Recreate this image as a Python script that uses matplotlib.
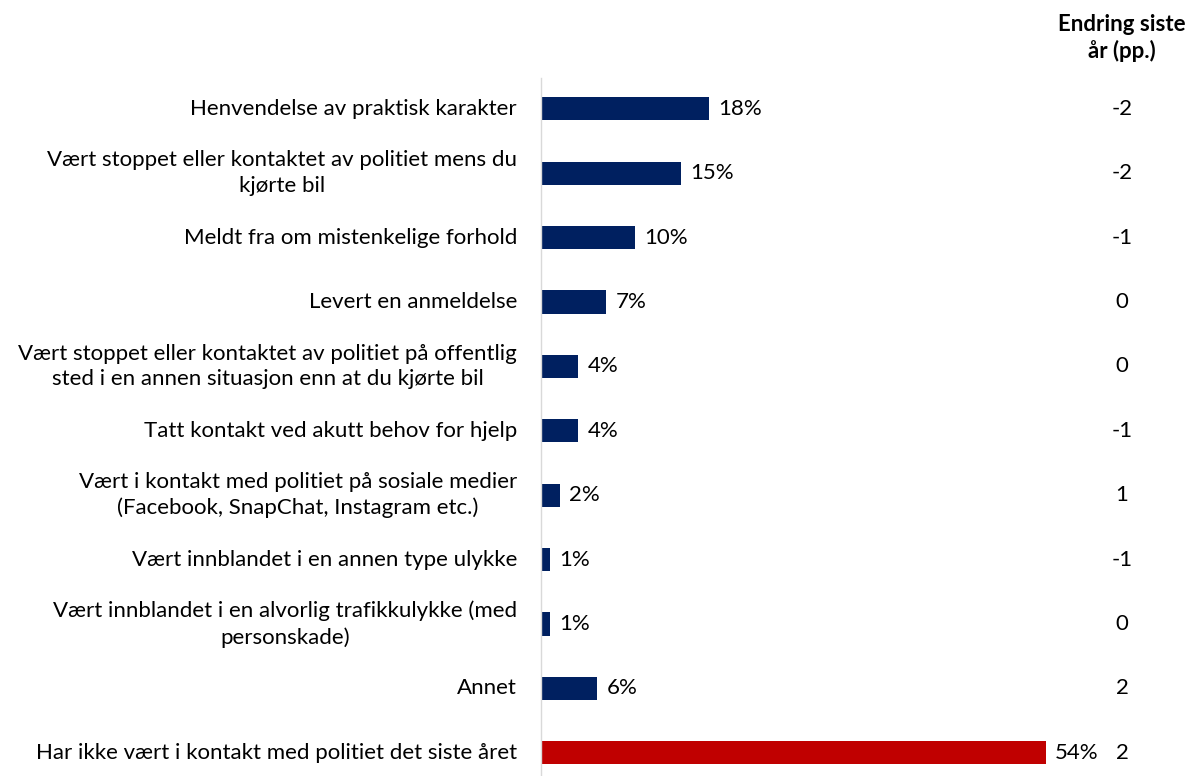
import matplotlib.pyplot as plt

plt.rcParams['font.family'] = ['Lato', 'DejaVu Sans']

categories = [
    "Henvendelse av praktisk karakter",
    "Vært stoppet eller kontaktet av politiet mens du\nkjørte bil",
    "Meldt fra om mistenkelige forhold",
    "Levert en anmeldelse",
    "Vært stoppet eller kontaktet av politiet på offentlig\nsted i en annen situasjon enn at du kjørte bil",
    "Tatt kontakt ved akutt behov for hjelp",
    "Vært i kontakt med politiet på sosiale medier\n(Facebook, SnapChat, Instagram etc.)",
    "Vært innblandet i en annen type ulykke",
    "Vært innblandet i en alvorlig trafikkulykke (med\npersonskade)",
    "Annet",
    "Har ikke vært i kontakt med politiet det siste året",
]
shares = [18, 15, 10, 7, 4, 4, 2, 1, 1, 6, 54]
changes = [-2, -2, -1, 0, 0, -1, 1, -1, 0, 2, 2]

navy = '#002060'
red = '#C00000'
colors = [navy] * (len(shares) - 1) + [red]
fs = 16

fig = plt.figure(figsize=(11.94, 7.76), dpi=100)
ax = fig.add_axes([541 / 1194, 0, 561 / 1194, 698 / 776])

y = list(range(len(shares)))
ax.barh(y, shares, height=0.36, color=colors)
ax.set_xlim(0, 60)
ax.set_ylim(len(shares) - 1 + 0.36, -0.48)

# value labels next to each bar
for i, v in enumerate(shares):
    ax.text(v + 1.0, i, f"{v}%", va='center', ha='left', fontsize=fs)

# change column to the right, and category labels to the left of the axis
trans = ax.get_yaxis_transform()
for i, c in enumerate(changes):
    ax.text((1122 - 541) / 561, i, f"{c}", transform=trans,
            ha='center', va='center', fontsize=fs, clip_on=False)

for i, lab in enumerate(categories):
    ax.text(-24 / 561, i, lab, transform=trans, ha='right', va='center',
            multialignment='center', fontsize=fs, linespacing=1.35,
            clip_on=False)

fig.text(1122 / 1194, 1 - 38 / 776, "Endring siste\når (pp.)", ha='center',
         va='center', fontsize=fs, fontweight='bold', linespacing=1.3)

ax.set_xticks([])
ax.set_yticks([])
for s in ['top', 'right', 'bottom']:
    ax.spines[s].set_visible(False)
ax.spines['left'].set_color('#d9d9d9')
ax.spines['left'].set_linewidth(1)

fig.savefig('out.png', dpi=100, facecolor='white')
